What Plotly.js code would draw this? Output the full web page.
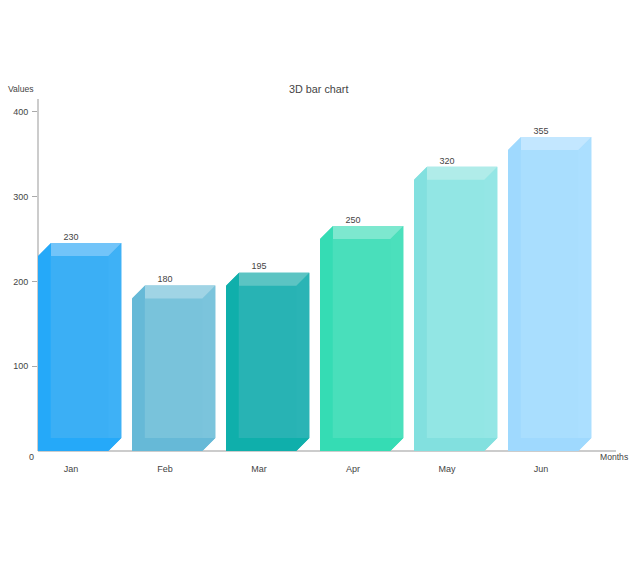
<!DOCTYPE html>
<html>
<head>
<meta charset="utf-8">
<script src="https://cdn.plot.ly/plotly-3.0.1.min.js"></script>
<style>html,body{margin:0;padding:0;background:#fff}</style>
</head>
<body>
<div id="chart" style="width:640px;height:561px"></div>
<script>
const months = ["Jan","Feb","Mar","Apr","May","Jun"];
const values = [230,180,195,250,320,355];
const leftColors  = ["#25A9F9","#66B9D7","#0FAFAB","#35DCB4","#82E0DF","#9FD9FE"];
const frontColors = ["#3BAFF5","#79C3DB","#28B3B4","#49DFBB","#92E6E4","#A9DEFE"];
const topColors   = ["#72C4F9","#A0D4E5","#5CC4C3","#7DE8CF","#B0ECE9","#C3E7FF"];
const rightColors = ["#3EB1F6","#7BC4DC","#2AB4B5","#4BE0BC","#94E6E5","#ABDFFF"];
const yTicks = [100,200,300,400];

// Drawing proportions, in axis units
const barWidth = 0.748, depthX = 0.138, depthY = 15.34, labelShift = 0.352, labelLift = 1.2;
const xMax = 6.149, yMax = 415.3;

const traces = [];
function face(xs, ys, color) {
  traces.push({type:"scatter", mode:"lines", x:xs.concat(xs[0]), y:ys.concat(ys[0]),
    fill:"toself", fillcolor:color, line:{width:0}, hoverinfo:"skip", showlegend:false});
}
values.forEach((v,i) => {
  const x0=i, x1=i+barWidth, bx0=i+depthX, bx1=i+barWidth+depthX;
  const d=depthY, t=v+depthY;
  // The back panel runs under the other faces so that no seam shows between them
  face([bx0,bx1,bx1,bx0],[d,d,t,t],frontColors[i]);
  face([x1,bx1,bx1,x1],[v,t,d,0],rightColors[i]);
  face([x0,bx0,bx1,x1],[v,t,t,v],topColors[i]);
  face([x0,bx0,bx0,bx1,x1,x0],[v,t,d,d,0,0],leftColors[i]);
});
traces.push({type:"scatter", mode:"text", x:months.map((m,i)=>i+labelShift),
  y:values.map(v=>v+depthY+labelLift), text:values.map(String), textposition:"top center",
  textfont:{size:9,color:"#444"}, hoverinfo:"skip", showlegend:false, cliponaxis:false});

const font = {family:"Liberation Sans, sans-serif", size:9, color:"#444"};
const smallFont = {family:font.family, size:8.6, color:"#444"};
const layout = {
  width:640, height:561, paper_bgcolor:"#fff", plot_bgcolor:"#fff",
  margin:{l:38,r:24,t:99,b:110}, font:font, showlegend:false,
  xaxis:{range:[0,xMax], tickmode:"array", tickvals:months.map((m,i)=>i+labelShift), ticktext:months,
    showgrid:false, zeroline:false, showline:false, ticks:"", ticklabelstandoff:11,
    tickfont:font, fixedrange:true},
  yaxis:{range:[0,yMax], tickmode:"array", tickvals:yTicks, ticktext:yTicks.map(String),
    showgrid:false, zeroline:false, showline:false, ticks:"outside", ticklen:5,
    tickcolor:"#aaa", tickwidth:1, ticklabelstandoff:2, tickfont:font, fixedrange:true},
  shapes:[
    {type:"line", layer:"below", xref:"paper", yref:"paper", x0:0, x1:0, y0:0, y1:1, line:{color:"#ccc", width:2}},
    {type:"line", layer:"below", xref:"paper", yref:"paper", x0:0, x1:1, y0:0, y1:0, line:{color:"#ccc", width:2}}
  ],
  annotations:[
    {text:"3D bar chart", xref:"paper", yref:"paper", x:0.4845, y:1.0284, xanchor:"center", yanchor:"middle", showarrow:false, font:{family:font.family, size:10.8, color:"#444"}},
    {text:"Values", xref:"paper", yref:"paper", x:-0.0553, y:1.0284, xanchor:"left", yanchor:"middle", showarrow:false, font:smallFont},
    {text:"Months", xref:"paper", yref:"paper", x:0.9689, y:-0.017, xanchor:"left", yanchor:"middle", showarrow:false, font:smallFont},
    {text:"0", xref:"paper", yref:"paper", x:-0.012, y:-0.017, xanchor:"center", yanchor:"middle", showarrow:false, font:font}
  ]
};
Plotly.newPlot("chart", traces, layout, {displayModeBar:false, staticPlot:true});
</script>
</body>
</html>
